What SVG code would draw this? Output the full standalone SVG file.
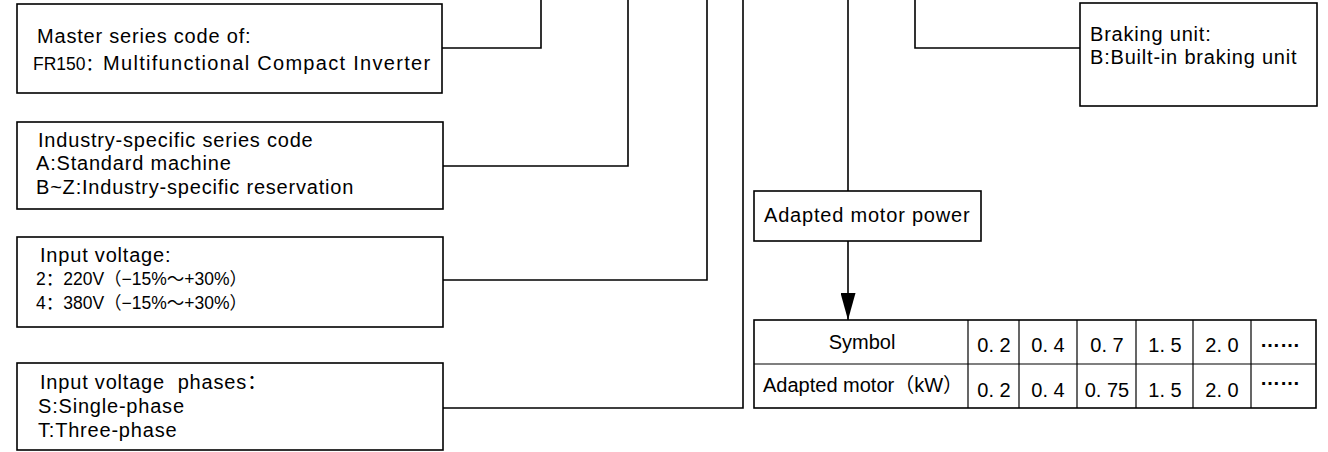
<svg xmlns="http://www.w3.org/2000/svg" width="1328" height="452" viewBox="0 0 1328 452">
  <defs>
    <style>
      .box { fill: #ffffff; stroke: #000000; stroke-width: 1.6; }
      .wire { fill: none; stroke: #000000; stroke-width: 1.6; }
      .grid { fill: none; stroke: #000000; stroke-width: 1.2; }
      .t { font-family: "Liberation Sans", "Noto Sans CJK SC", sans-serif; font-size: 20px; letter-spacing: 0.8px; fill: #000000; }
      .v { font-family: "Liberation Sans", "Noto Sans CJK SC", sans-serif; font-size: 17.5px; fill: #000000; }
      .c { font-family: "Liberation Sans", "Noto Sans CJK SC", sans-serif; font-size: 20px; fill: #000000; }
      .dots { font-weight: bold; }
      .mid { text-anchor: middle; }
    </style>
    <marker id="arrowhead" viewBox="0 0 27 15" refX="27" refY="7.5" markerWidth="27" markerHeight="15" markerUnits="userSpaceOnUse" orient="auto">
      <path d="M0,0 L27,7.5 L0,15 Z" fill="#000000"/>
    </marker>
  </defs>

  <rect width="1328" height="452" fill="#ffffff"/>

  <!-- connectors -->
  <g id="connectors">
    <polyline class="wire" points="442,48 541,48 541,0"/>
    <polyline class="wire" points="443,166 628,166 628,0"/>
    <polyline class="wire" points="443,280 707,280 707,0"/>
    <polyline class="wire" points="443,408 743,408 743,0"/>
    <line class="wire" x1="848" y1="0" x2="848" y2="191"/>
    <polyline class="wire" points="1080,48 915,48 915,0"/>
    <line class="wire" x1="848" y1="241" x2="848" y2="320" marker-end="url(#arrowhead)"/>
  </g>

  <!-- master series code -->
  <g id="master-series">
    <rect class="box" x="17" y="4" width="425" height="89"/>
    <text class="t" x="37" y="43" letter-spacing="0.4">Master series code of:</text>
    <text class="t" x="33" y="70"><tspan font-size="17.5" letter-spacing="0">FR150：</tspan><tspan letter-spacing="1.3">Multifunctional Compact Inverter</tspan></text>
  </g>

  <!-- industry-specific series code -->
  <g id="industry-code">
    <rect class="box" x="17" y="122" width="426" height="87"/>
    <text class="t" x="38" y="147">Industry-specific series code</text>
    <text class="t" x="36" y="170">A:Standard machine</text>
    <text class="t" x="36" y="194">B~Z:Industry-specific reservation</text>
  </g>

  <!-- input voltage -->
  <g id="input-voltage">
    <rect class="box" x="17" y="237" width="426" height="90"/>
    <text class="t" x="40" y="262">Input voltage:</text>
    <text class="v" x="36" y="285">2：220V（−15%～+30%）</text>
    <text class="v" x="36" y="309">4：380V（−15%～+30%）</text>
  </g>

  <!-- input voltage phases -->
  <g id="input-phases">
    <rect class="box" x="17" y="363" width="426" height="87"/>
    <text class="t" x="40" y="389" xml:space="preserve">Input voltage  phases：</text>
    <text class="t" x="38" y="413">S:Single-phase</text>
    <text class="t" x="38" y="437">T:Three-phase</text>
  </g>

  <!-- braking unit -->
  <g id="braking-unit">
    <rect class="box" x="1080" y="3" width="237" height="103"/>
    <text class="t" x="1090" y="41">Braking unit:</text>
    <text class="t" x="1090" y="64">B:Built-in braking unit</text>
  </g>

  <!-- adapted motor power -->
  <g id="motor-power">
    <rect class="box" x="754" y="191" width="227" height="50"/>
    <text class="t" x="764" y="222">Adapted motor power</text>
  </g>

  <!-- power rating table -->
  <g id="power-table">
    <rect class="box" x="754" y="320" width="562" height="88"/>
    <line class="grid" x1="754" y1="364" x2="1316" y2="364"/>
    <line class="grid" x1="968" y1="320" x2="968" y2="408"/>
    <line class="grid" x1="1019" y1="320" x2="1019" y2="408"/>
    <line class="grid" x1="1077" y1="320" x2="1077" y2="408"/>
    <line class="grid" x1="1136" y1="320" x2="1136" y2="408"/>
    <line class="grid" x1="1193" y1="320" x2="1193" y2="408"/>
    <line class="grid" x1="1251" y1="320" x2="1251" y2="408"/>

    <text class="c mid" x="862" y="349">Symbol</text>
    <text class="c mid" x="994" y="352">0. 2</text>
    <text class="c mid" x="1048" y="352">0. 4</text>
    <text class="c mid" x="1107" y="352">0. 7</text>
    <text class="c mid" x="1165" y="352">1. 5</text>
    <text class="c mid" x="1222" y="352">2. 0</text>
    <text class="c mid dots" x="1280" y="347" font-size="21">……</text>

    <text class="c" x="763" y="392">Adapted motor（kW）</text>
    <text class="c mid" x="994" y="397">0. 2</text>
    <text class="c mid" x="1048" y="397">0. 4</text>
    <text class="c mid" x="1107" y="397">0. 75</text>
    <text class="c mid" x="1165" y="397">1. 5</text>
    <text class="c mid" x="1222" y="397">2. 0</text>
    <text class="c mid dots" x="1280" y="385" font-size="21">……</text>
  </g>
</svg>
